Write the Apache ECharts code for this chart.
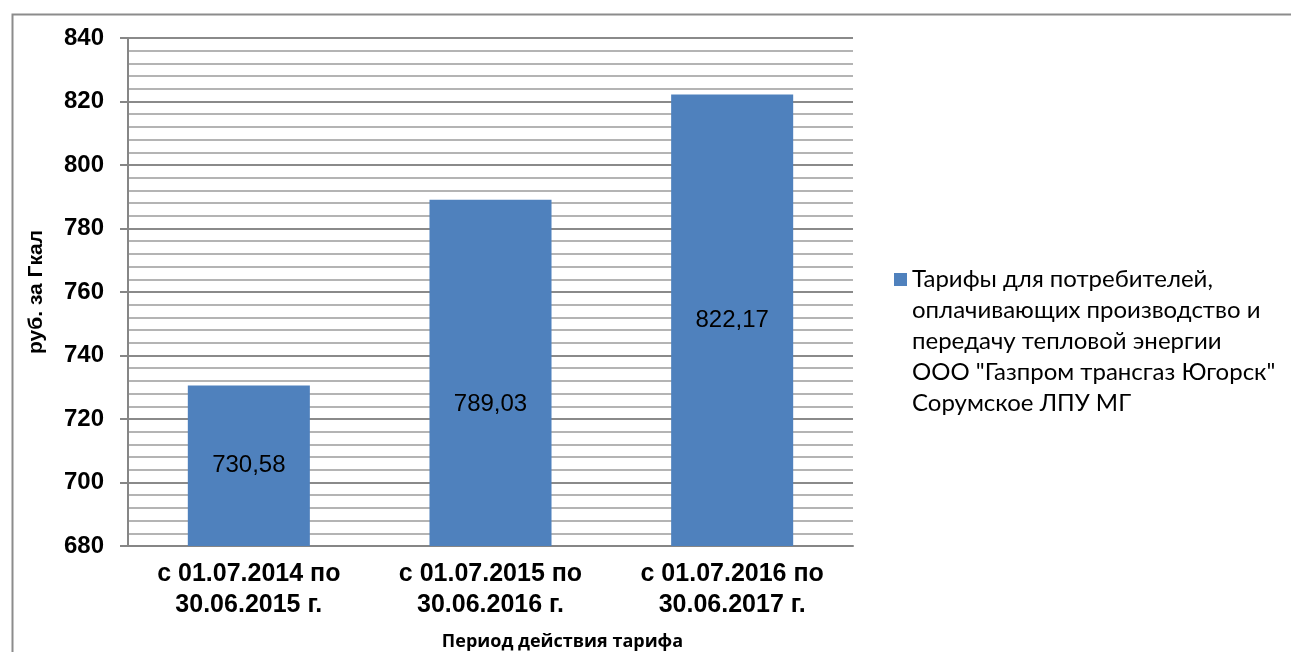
<!DOCTYPE html>
<html>
<head>
<meta charset="utf-8">
<script src="https://cdn.jsdelivr.net/npm/echarts@6/dist/echarts.min.js"></script>
<style>
html,body{margin:0;padding:0;background:#fff;}
#c{width:1291px;height:652px;}
</style>
</head>
<body>
<div id="c"></div>
<script>
var categories = ['с 01.07.2014 по\n30.06.2015 г.', 'с 01.07.2015 по\n30.06.2016 г.', 'с 01.07.2016 по\n30.06.2017 г.'];
var values = [730.58, 789.03, 822.17];
var seriesName = 'Тарифы для потребителей,\nоплачивающих производство и\nпередачу тепловой энергии\nООО "Газпром трансгаз Югорск"\nСорумское ЛПУ МГ';
var yName = 'руб. за Гкал';
var xName = 'Период действия тарифа';

var chart = echarts.init(document.getElementById('c'));
chart.setOption({
  animation: false,
  backgroundColor: '#fff',
  graphic: [{
    type: 'rect', left: 10, top: 12,
    shape: {x: 0, y: 0, width: 1320, height: 700},
    style: {fill: 'none', stroke: '#8c8c8c', lineWidth: 2},
    silent: true
  }],
  grid: {left: 128, right: 438, top: 38, bottom: 106, outerBoundsMode: 'none', containLabel: false},
  legend: {
    left: 889, top: 135,
    itemWidth: 13, itemHeight: 13, itemGap: 0,
    icon: 'rect',
    textStyle: {fontFamily: 'Lato', fontSize: 24, color: '#000', lineHeight: 31},
    formatter: function (n) { return '\n\n\n\n' + n; },
    data: [seriesName]
  },
  xAxis: {
    type: 'category',
    data: categories,
    name: xName,
    nameLocation: 'middle',
    nameGap: 87,
    nameTextStyle: {fontFamily: 'Open Sans', fontWeight: 'bold', fontSize: 18, color: '#000', padding: [0, 0, 0, 144]},
    axisLine: {lineStyle: {color: '#868686', width: 2}},
    axisTick: {show: false},
    axisLabel: {fontFamily: 'Arial, Liberation Sans', fontWeight: 'bold', fontSize: 25, color: '#000', lineHeight: 31, margin: 13}
  },
  yAxis: {
    type: 'value',
    min: 680, max: 840, interval: 20,
    name: yName,
    nameLocation: 'middle',
    nameGap: 81,
    nameTextStyle: {fontFamily: 'Arial, Liberation Sans', fontWeight: 'bold', fontSize: 21, color: '#000'},
    axisLine: {show: true, lineStyle: {color: '#868686', width: 2}},
    axisTick: {show: true, inside: false, length: 8, lineStyle: {color: '#868686', width: 2}},
    axisLabel: {fontFamily: 'Arial, Liberation Sans', fontWeight: 'bold', fontSize: 24, color: '#000', margin: 24},
    splitLine: {show: true, lineStyle: {color: '#8a8a8a', width: 2}},
    minorTick: {show: false, splitNumber: 5},
    minorSplitLine: {show: true, lineStyle: {color: '#b4b4b4', width: 2}}
  },
  series: [{
    name: seriesName,
    type: 'bar',
    barWidth: '50.5%',
    itemStyle: {color: '#4f81bd'},
    label: {
      show: true, position: 'inside',
      fontFamily: 'Arial, Liberation Sans', fontSize: 24, color: '#000',
      formatter: function (p) { return p.value.toFixed(2).replace('.', ','); }
    },
    data: values.map(function (v, i) {
      return i === 1 ? {value: v, label: {offset: [0, 31]}} : v;
    })
  }]
});
</script>
</body>
</html>
